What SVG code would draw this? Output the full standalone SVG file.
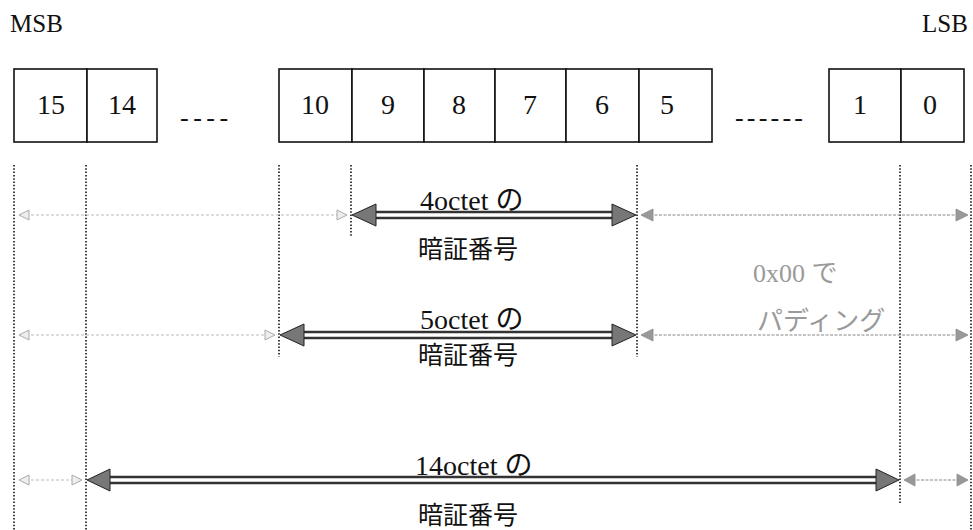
<svg xmlns="http://www.w3.org/2000/svg" width="973" height="530" viewBox="0 0 973 530">
<style>
.t{font-family:"Liberation Serif","Noto Sans CJK JP",serif;fill:#111}
.num{font-size:28px;text-anchor:middle}
.lbl{font-size:28px}
.jp{font-family:"Noto Sans CJK JP",sans-serif;font-size:25px;fill:#111}
.box{fill:#fff;stroke:#111;stroke-width:1.6}
.dot{stroke:#111;stroke-width:1.6;stroke-dasharray:1.5 1.8;fill:none}
.lg{stroke:#bbb;stroke-width:1.2;stroke-dasharray:3 2;fill:none}
.mg{stroke:#888;stroke-width:1.2;stroke-dasharray:3 1.5;fill:none}
.shaft{stroke:#333;stroke-width:2.4;fill:none}
.hd{fill:#777;stroke:#222;stroke-width:1}
.lh{fill:#eee;stroke:#aaa;stroke-width:1}
.mh{fill:#999;stroke:#888;stroke-width:0.8}
.pad{font-family:"Liberation Serif","Noto Sans CJK JP",serif;font-size:26px;fill:#9a9a9a}
.dash{font-family:"Liberation Serif",serif;font-size:26px;fill:#111}
</style>
<g id="msb"><text class="t" x="10" y="32" font-size="25">MSB</text></g>
<g id="lsb"><text class="t" x="922" y="32" font-size="25">LSB</text></g>
<g id="bit15"><rect class="box" x="14" y="69" width="73" height="73"/><text class="t num" x="51" y="114">15</text></g>
<g id="bit14"><rect class="box" x="87" y="69" width="70" height="73"/><text class="t num" x="122" y="114">14</text></g>
<g id="dots1"><text class="dash" x="180" y="126" letter-spacing="4.5">----</text></g>
<g id="bit10"><rect class="box" x="279" y="69" width="73" height="73"/><text class="t num" x="315" y="114">10</text></g>
<g id="bit9"><rect class="box" x="352" y="69" width="72" height="73"/><text class="t num" x="388" y="114">9</text></g>
<g id="bit8"><rect class="box" x="424" y="69" width="71" height="73"/><text class="t num" x="459" y="114">8</text></g>
<g id="bit7"><rect class="box" x="495" y="69" width="71" height="73"/><text class="t num" x="530" y="114">7</text></g>
<g id="bit6"><rect class="box" x="566" y="69" width="73" height="73"/><text class="t num" x="602" y="114">6</text></g>
<g id="bit5"><rect class="box" x="639" y="69" width="73" height="73"/><text class="t num" x="667" y="114">5</text></g>
<g id="dots2"><text class="dash" x="735" y="126" letter-spacing="3.2">------</text></g>
<g id="bit1"><rect class="box" x="829" y="69" width="72" height="73"/><text class="t num" x="860" y="114">1</text></g>
<g id="bit0"><rect class="box" x="901" y="69" width="63" height="73"/><text class="t num" x="930" y="114">0</text></g>

<g id="guides">
<line class="dot" x1="14" y1="165" x2="14" y2="530"/>
<line class="dot" x1="86" y1="165" x2="86" y2="530"/>
<line class="dot" x1="279" y1="165" x2="279" y2="357"/>
<line class="dot" x1="351" y1="165" x2="351" y2="236"/>
<line class="dot" x1="637" y1="165" x2="637" y2="357"/>
<line class="dot" x1="900" y1="165" x2="900" y2="503"/>
<line class="dot" x1="971" y1="165" x2="971" y2="530"/>
</g>

<g id="connectors">
<!-- row 1 -->
<line class="lg" x1="26" y1="215" x2="338" y2="215"/>
<polygon class="lh" points="19,215 29,210 29,220"/>
<polygon class="lh" points="347,215 337,210 337,220"/>
<line class="shaft" x1="372" y1="212" x2="616" y2="212"/>
<line class="shaft" x1="372" y1="218" x2="616" y2="218"/>
<polygon class="hd" points="352,215 376,204 376,226"/>
<polygon class="hd" points="636,215 612,204 612,226"/>
<line class="mg" x1="650" y1="215" x2="958" y2="215"/>
<polygon class="mh" points="641,215 653,209 653,221"/>
<polygon class="mh" points="968,215 956,209 956,221"/>
<!-- row 2 -->
<line class="lg" x1="26" y1="335" x2="266" y2="335"/>
<polygon class="lh" points="19,335 29,330 29,340"/>
<polygon class="lh" points="275,335 265,330 265,340"/>
<line class="shaft" x1="300" y1="332" x2="616" y2="332"/>
<line class="shaft" x1="300" y1="338" x2="616" y2="338"/>
<polygon class="hd" points="280,335 304,324 304,346"/>
<polygon class="hd" points="636,335 612,324 612,346"/>
<line class="mg" x1="650" y1="335" x2="958" y2="335"/>
<polygon class="mh" points="641,335 653,329 653,341"/>
<polygon class="mh" points="968,335 956,329 956,341"/>
<!-- row 3 -->
<line class="lg" x1="26" y1="480" x2="74" y2="480"/>
<polygon class="lh" points="19,480 29,475 29,485"/>
<polygon class="lh" points="82,480 72,475 72,485"/>
<line class="shaft" x1="106" y1="477" x2="880" y2="477"/>
<line class="shaft" x1="106" y1="483" x2="880" y2="483"/>
<polygon class="hd" points="87,480 110,469 110,491"/>
<polygon class="hd" points="899,480 876,469 876,491"/>
<line class="mg" x1="912" y1="480" x2="960" y2="480"/>
<polygon class="mh" points="904,480 915,474 915,486"/>
<polygon class="mh" points="968,480 957,474 957,486"/>
</g>

<g id="label4">
<text class="t lbl" x="420" y="210">4octet の</text>
<text class="jp" x="418" y="258">暗証番号</text>
</g>
<g id="label5">
<text class="t lbl" x="420" y="329">5octet の</text>
<text class="jp" x="418" y="364">暗証番号</text>
</g>
<g id="label14">
<text class="t lbl" x="415" y="475">14octet の</text>
<text class="jp" x="418" y="524">暗証番号</text>
</g>
<g id="padding">
<text class="pad" x="753" y="282">0x00 で</text>
<text class="pad" x="757" y="330">パディング</text>
</g>
</svg>
